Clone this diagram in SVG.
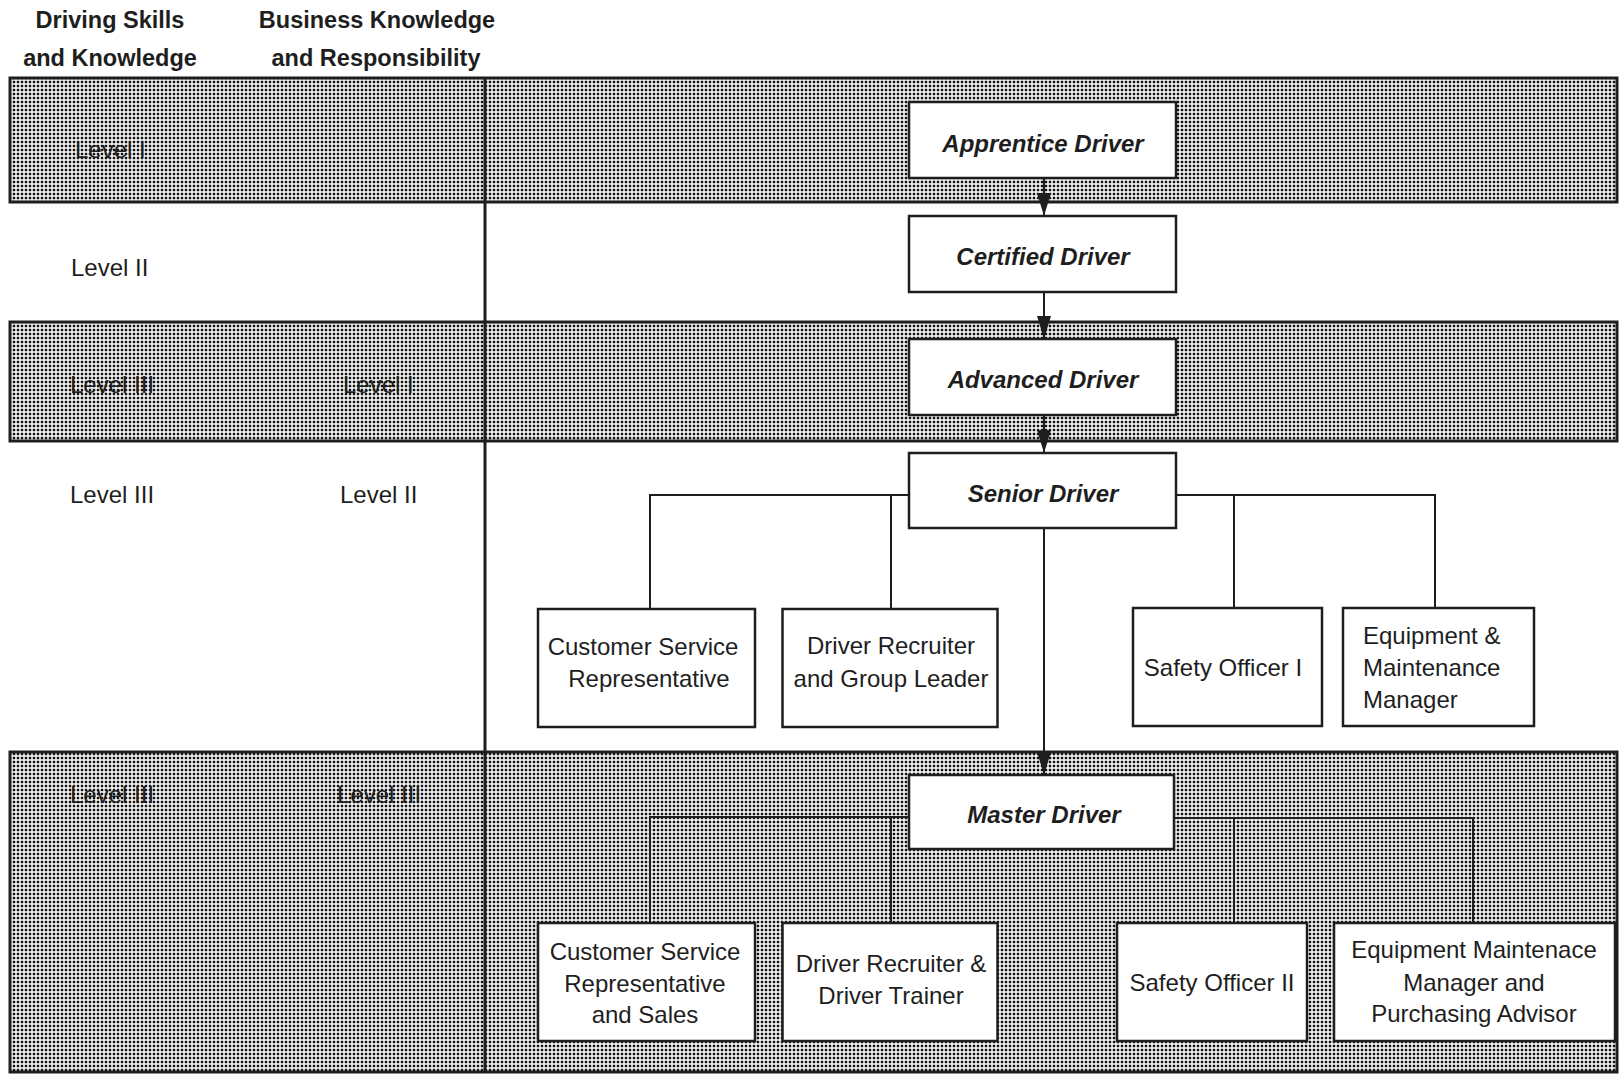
<svg xmlns="http://www.w3.org/2000/svg" width="1621" height="1074" viewBox="0 0 1621 1074">
<style>
text{font-family:"Liberation Sans",Arial,sans-serif;fill:#1e1e1e}
.hdr{font-size:23.5px;font-weight:bold;text-anchor:middle}
.lvl{font-size:24px}
.main{font-size:24px;font-weight:bold;font-style:italic;text-anchor:middle}
.lbl{font-size:24px;text-anchor:middle}
.lft{font-size:24px}
.band{fill:url(#dots);stroke:#1e1e1e;stroke-width:3}
.box{fill:#fff;stroke:#1e1e1e;stroke-width:2.5}
.con{fill:none;stroke:#1e1e1e;stroke-width:2}
.arr{fill:none;stroke:#1e1e1e;stroke-width:2;marker-end:url(#ah)}
</style>
<defs>
<pattern id="dots" width="4" height="4" patternUnits="userSpaceOnUse">
<rect width="4" height="4" fill="#fff"/>
<rect x="0.75" y="0.75" width="2.5" height="2.5" fill="#111"/>
</pattern>
<marker id="ah" viewBox="0 0 23 14" refX="23" refY="7" markerWidth="23" markerHeight="14" markerUnits="userSpaceOnUse" orient="auto">
<path d="M0,0 L23,7 L0,14 Z" fill="#1e1e1e"/>
</marker>
</defs>
<rect width="1621" height="1074" fill="#fff"/>
<g id="headers">
<text class="hdr" x="110" y="28">Driving Skills</text>
<text class="hdr" x="110" y="66">and Knowledge</text>
<text class="hdr" x="377" y="28">Business Knowledge</text>
<text class="hdr" x="376" y="66">and Responsibility</text>
</g>
<g id="bands">
<rect class="band" x="10" y="78" width="1607" height="124"/>
<rect class="band" x="10" y="322" width="1607" height="119"/>
<rect class="band" x="10" y="752" width="1607" height="320"/>
<line x1="485" y1="78" x2="485" y2="1072" stroke="#1e1e1e" stroke-width="3"/>
</g>
<g id="levels">
<text class="lvl" x="75" y="158">Level I</text>
<text class="lvl" x="71" y="276">Level II</text>
<text class="lvl" x="70" y="393">Level III</text>
<text class="lvl" x="343" y="393">Level I</text>
<text class="lvl" x="70" y="503">Level III</text>
<text class="lvl" x="340" y="503">Level II</text>
<text class="lvl" x="70" y="803">Level III</text>
<text class="lvl" x="337" y="803">Level III</text>
</g>
<g id="connectors">
<line class="arr" x1="1044" y1="178" x2="1044" y2="216"/>
<line class="arr" x1="1044" y1="292" x2="1044" y2="339"/>
<line class="arr" x1="1044" y1="415" x2="1044" y2="453"/>
<line class="arr" x1="1044" y1="528" x2="1044" y2="775"/>
<polyline class="con" points="909,495 650,495 650,609"/>
<line class="con" x1="891" y1="495" x2="891" y2="609"/>
<polyline class="con" points="1176,495 1435,495 1435,608"/>
<line class="con" x1="1234" y1="495" x2="1234" y2="608"/>
<polyline class="con" points="909,817 650,817 650,923"/>
<line class="con" x1="891" y1="817" x2="891" y2="923"/>
<polyline class="con" points="1174,818 1473,818 1473,923"/>
<line class="con" x1="1234" y1="818" x2="1234" y2="923"/>
</g>
<g id="apprentice-driver">
<rect class="box" x="909" y="102" width="267" height="76"/>
<text class="main" x="1043" y="152">Apprentice Driver</text>
</g>
<g id="certified-driver">
<rect class="box" x="909" y="216" width="267" height="76"/>
<text class="main" x="1043" y="265">Certified Driver</text>
</g>
<g id="advanced-driver">
<rect class="box" x="909" y="339" width="267" height="76"/>
<text class="main" x="1043" y="388">Advanced Driver</text>
</g>
<g id="senior-driver">
<rect class="box" x="909" y="453" width="267" height="75"/>
<text class="main" x="1043" y="502">Senior Driver</text>
</g>
<g id="master-driver">
<rect class="box" x="909" y="775" width="265" height="74"/>
<text class="main" x="1044" y="823">Master Driver</text>
</g>
<g id="csr-1">
<rect class="box" x="538" y="609" width="217" height="118"/>
<text class="lbl" x="643" y="655">Customer Service</text>
<text class="lbl" x="649" y="687">Representative</text>
</g>
<g id="recruiter-1">
<rect class="box" x="782.5" y="609" width="215" height="118"/>
<text class="lbl" x="891" y="654">Driver Recruiter</text>
<text class="lbl" x="891" y="687">and Group Leader</text>
</g>
<g id="safety-1">
<rect class="box" x="1133" y="608" width="189" height="118"/>
<text class="lbl" x="1223" y="676">Safety Officer I</text>
</g>
<g id="equipment-1">
<rect class="box" x="1343" y="608" width="191" height="118"/>
<text class="lft" x="1363" y="644">Equipment &amp;</text>
<text class="lft" x="1363" y="676">Maintenance</text>
<text class="lft" x="1363" y="708">Manager</text>
</g>
<g id="csr-2">
<rect class="box" x="538" y="923" width="217" height="118"/>
<text class="lbl" x="645" y="960">Customer Service</text>
<text class="lbl" x="645" y="992">Representative</text>
<text class="lbl" x="645" y="1023">and Sales</text>
</g>
<g id="recruiter-2">
<rect class="box" x="782.5" y="923" width="215" height="118"/>
<text class="lbl" x="891" y="972">Driver Recruiter &amp;</text>
<text class="lbl" x="891" y="1004">Driver Trainer</text>
</g>
<g id="safety-2">
<rect class="box" x="1117" y="923" width="190" height="118"/>
<text class="lbl" x="1212" y="991">Safety Officer II</text>
</g>
<g id="equipment-2">
<rect class="box" x="1334" y="923" width="281" height="118"/>
<text class="lbl" x="1474" y="958">Equipment Maintenace</text>
<text class="lbl" x="1474" y="991">Manager and</text>
<text class="lbl" x="1474" y="1022">Purchasing Advisor</text>
</g>
</svg>
